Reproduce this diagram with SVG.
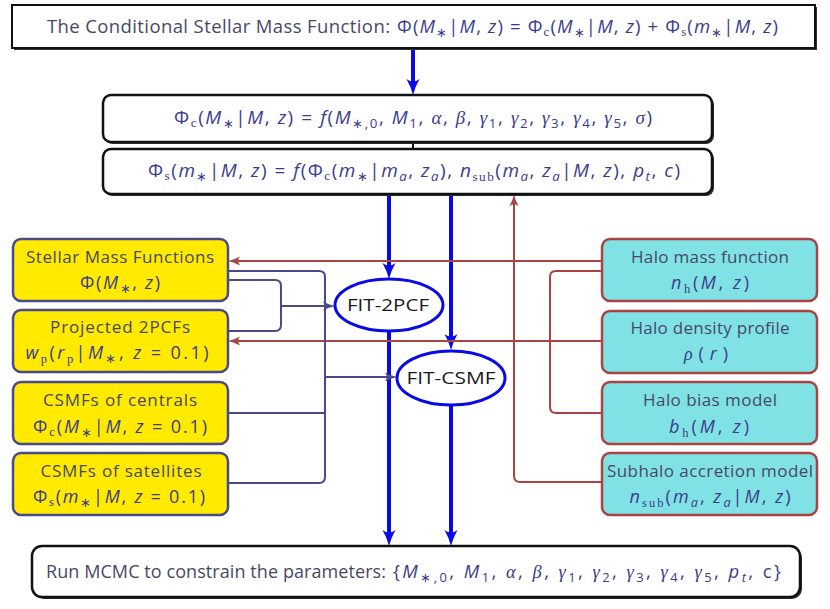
<svg xmlns="http://www.w3.org/2000/svg" width="830" height="609" viewBox="0 0 830 609">
<style>
text{font-family:"Open Sans","Liberation Sans",sans-serif;}
.tx{fill:#484866;}
.mt{fill:#3c3c8c;}
.i{font-style:italic;}
.g{font-family:"Liberation Serif",serif;font-style:italic;}
.r{font-family:"Liberation Serif",serif;font-style:normal;}
.s{font-size:70%;}
.bk{fill:#fff;stroke:#111;stroke-width:2.5;}
.sh{fill:#333;}
.ye{fill:#ffea00;stroke:#4a4a8a;stroke-width:2.5;}
.cy{fill:#80e2e4;stroke:#a84444;stroke-width:2.5;}
.el{fill:#fff;stroke:#0a0ae6;stroke-width:3;}
.eltx{fill:#1a1a1a;font-size:15.5px;}
.blue{stroke:#0a0ae6;stroke-width:4;fill:none;}
.red{stroke:#a84444;stroke-width:2;fill:none;}
.sl{stroke:#4a4a8a;stroke-width:2;fill:none;}
</style>
<defs>
<marker id="ab" viewBox="0 0 16 14" markerWidth="16" markerHeight="14" refX="8" refY="7" orient="auto" markerUnits="userSpaceOnUse">
<path d="M0,0.5 Q8,5 16,7 Q8,9 0,13.5 Q5,7 0,0.5 z" fill="#0a0ae6"/>
</marker>
<marker id="ar" viewBox="0 0 12 10" markerWidth="12" markerHeight="10" refX="5" refY="5" orient="auto" markerUnits="userSpaceOnUse">
<path d="M0,0.5 Q6,4 12,5 Q6,6 0,9.5 Q3.5,5 0,0.5 z" fill="#a84444"/>
</marker>
<marker id="as" viewBox="0 0 12 10" markerWidth="12" markerHeight="10" refX="5" refY="5" orient="auto" markerUnits="userSpaceOnUse">
<path d="M0,0.5 Q6,4 12,5 Q6,6 0,9.5 Q3.5,5 0,0.5 z" fill="#4a4a8a"/>
</marker>
</defs>
<rect width="830" height="609" fill="#fff"/>

<g id="connectors">
<line class="blue" x1="413" y1="49" x2="413" y2="87" marker-end="url(#ab)"/>
<line x1="413" y1="142" x2="413" y2="149" stroke="#111" stroke-width="2"/>
<line class="blue" x1="389" y1="194" x2="389" y2="271" marker-end="url(#ab)"/>
<line class="blue" x1="451" y1="194" x2="451" y2="342" marker-end="url(#ab)"/>
<line class="blue" x1="389" y1="331" x2="389" y2="538" marker-end="url(#ab)"/>
<line class="blue" x1="451" y1="406" x2="451" y2="538" marker-end="url(#ab)"/>
<line class="red" x1="602" y1="261" x2="235" y2="261" marker-end="url(#ar)"/>
<line class="red" x1="602" y1="341" x2="235" y2="341" marker-end="url(#ar)"/>
<path class="red" d="M602,271 H556 Q550,271 550,277 V407 Q550,413 556,413 H602"/>
<path class="red" d="M602,482 H520 Q514,482 514,476 V201" marker-end="url(#ar)"/>
<path class="sl" d="M228,271 H319 Q325,271 325,277 V477 Q325,483 319,483 H228"/>
<line class="sl" x1="228" y1="413" x2="325" y2="413"/>
<line class="sl" x1="325" y1="377" x2="390" y2="377" marker-end="url(#as)"/>
<path class="sl" d="M228,280 H275 Q281,280 281,286 V325 Q281,331 275,331 H228"/>
<line class="sl" x1="281" y1="306" x2="328" y2="306" marker-end="url(#as)"/>
</g>

<g id="csmf">
<rect class="sh" x="14" y="7" width="803" height="43"/>
<rect x="12" y="5" width="803" height="43" fill="#fff" stroke="#111" stroke-width="2"/>
<text x="47" y="33" font-size="18.5" textLength="343" lengthAdjust="spacing" class="tx">The Conditional Stellar Mass Function:</text>
<text x="397" y="33" font-size="18.5" textLength="381" lengthAdjust="spacing" class="mt">Φ(<tspan class="i">M</tspan><tspan class="s" dy="4">∗</tspan><tspan dy="-4">|</tspan><tspan class="i">M</tspan>, <tspan class="i">z</tspan>) = Φ<tspan class="r s" dy="3">c</tspan><tspan dy="-3">(</tspan><tspan class="i">M</tspan><tspan class="s" dy="4">∗</tspan><tspan dy="-4">|</tspan><tspan class="i">M</tspan>, <tspan class="i">z</tspan>) + Φ<tspan class="r s" dy="3">s</tspan><tspan dy="-3">(</tspan><tspan class="i">m</tspan><tspan class="s" dy="4">∗</tspan><tspan dy="-4">|</tspan><tspan class="i">M</tspan>, <tspan class="i">z</tspan>)</text>
</g>

<g id="phic">
<rect class="sh" x="105" y="97" width="609" height="47" rx="8"/>
<rect class="bk" x="103" y="95" width="609" height="47" rx="8"/>
<text x="413" y="124" text-anchor="middle" font-size="19" textLength="478" lengthAdjust="spacing" class="mt">Φ<tspan class="r s" dy="3">c</tspan><tspan dy="-3">(</tspan><tspan class="i">M</tspan><tspan class="s" dy="4">∗</tspan><tspan dy="-4">|</tspan><tspan class="i">M</tspan>, <tspan class="i">z</tspan>) = <tspan class="i">f</tspan>(<tspan class="i">M</tspan><tspan class="s" dy="4">∗,0</tspan><tspan dy="-4">, </tspan><tspan class="i">M</tspan><tspan class="s" dy="4">1</tspan><tspan dy="-4">, </tspan><tspan class="g">α</tspan>, <tspan class="g">β</tspan>, <tspan class="g">γ</tspan><tspan class="s" dy="4">1</tspan><tspan dy="-4">, </tspan><tspan class="g">γ</tspan><tspan class="s" dy="4">2</tspan><tspan dy="-4">, </tspan><tspan class="g">γ</tspan><tspan class="s" dy="4">3</tspan><tspan dy="-4">, </tspan><tspan class="g">γ</tspan><tspan class="s" dy="4">4</tspan><tspan dy="-4">, </tspan><tspan class="g">γ</tspan><tspan class="s" dy="4">5</tspan><tspan dy="-4">, </tspan><tspan class="g">σ</tspan>)</text>
</g>

<g id="phis">
<rect class="sh" x="105" y="151" width="609" height="45" rx="8"/>
<rect class="bk" x="103" y="149" width="609" height="45" rx="8"/>
<text x="414" y="177" text-anchor="middle" font-size="19" textLength="532" lengthAdjust="spacing" class="mt">Φ<tspan class="r s" dy="3">s</tspan><tspan dy="-3">(</tspan><tspan class="i">m</tspan><tspan class="s" dy="4">∗</tspan><tspan dy="-4">|</tspan><tspan class="i">M</tspan>, <tspan class="i">z</tspan>) = <tspan class="i">f</tspan>(Φ<tspan class="r s" dy="3">c</tspan><tspan dy="-3">(</tspan><tspan class="i">m</tspan><tspan class="s" dy="4">∗</tspan><tspan dy="-4">|</tspan><tspan class="i">m</tspan><tspan class="i s" dy="4">a</tspan><tspan dy="-4">, </tspan><tspan class="i">z</tspan><tspan class="i s" dy="4">a</tspan><tspan dy="-4">), </tspan><tspan class="i">n</tspan><tspan class="r s" dy="4">sub</tspan><tspan dy="-4">(</tspan><tspan class="i">m</tspan><tspan class="i s" dy="4">a</tspan><tspan dy="-4">, </tspan><tspan class="i">z</tspan><tspan class="i s" dy="4">a</tspan><tspan dy="-4">|</tspan><tspan class="i">M</tspan>, <tspan class="i">z</tspan>), <tspan class="i">p</tspan><tspan class="i s" dy="4">t</tspan><tspan dy="-4">, </tspan><tspan class="i">c</tspan>)</text>
</g>

<g id="smf">
<rect class="ye" x="13" y="239" width="215" height="62" rx="8"/>
<text x="120" y="263" text-anchor="middle" font-size="17" textLength="188" lengthAdjust="spacing" class="tx">Stellar Mass Functions</text>
<text x="120" y="289" text-anchor="middle" font-size="18" textLength="80" lengthAdjust="spacing" class="mt">Φ(<tspan class="i">M</tspan><tspan class="s" dy="4">∗</tspan><tspan dy="-4">, </tspan><tspan class="i">z</tspan>)</text>
</g>
<g id="p2pcf">
<rect class="ye" x="13" y="310" width="215" height="62" rx="8"/>
<text x="120" y="333" text-anchor="middle" font-size="17" textLength="140" lengthAdjust="spacing" class="tx">Projected 2PCFs</text>
<text x="117" y="359" text-anchor="middle" font-size="18" textLength="183" lengthAdjust="spacing" class="mt"><tspan class="i">w</tspan><tspan class="r s" dy="4">p</tspan><tspan dy="-4">(</tspan><tspan class="i">r</tspan><tspan class="r s" dy="4">p</tspan><tspan dy="-4">|</tspan><tspan class="i">M</tspan><tspan class="s" dy="4">∗</tspan><tspan dy="-4">, </tspan><tspan class="i">z</tspan> = 0.1)</text>
</g>
<g id="csmfc">
<rect class="ye" x="13" y="382" width="215" height="62" rx="8"/>
<text x="120" y="406" text-anchor="middle" font-size="17" textLength="154" lengthAdjust="spacing" class="tx">CSMFs of centrals</text>
<text x="120" y="433" text-anchor="middle" font-size="18" textLength="174" lengthAdjust="spacing" class="mt">Φ<tspan class="r s" dy="3">c</tspan><tspan dy="-3">(</tspan><tspan class="i">M</tspan><tspan class="s" dy="4">∗</tspan><tspan dy="-4">|</tspan><tspan class="i">M</tspan>, <tspan class="i">z</tspan> = 0.1)</text>
</g>
<g id="csmfs">
<rect class="ye" x="13" y="453" width="215" height="62" rx="8"/>
<text x="121" y="477" text-anchor="middle" font-size="17" textLength="161" lengthAdjust="spacing" class="tx">CSMFs of satellites</text>
<text x="119" y="503" text-anchor="middle" font-size="18" textLength="172" lengthAdjust="spacing" class="mt">Φ<tspan class="r s" dy="3">s</tspan><tspan dy="-3">(</tspan><tspan class="i">m</tspan><tspan class="s" dy="4">∗</tspan><tspan dy="-4">|</tspan><tspan class="i">M</tspan>, <tspan class="i">z</tspan> = 0.1)</text>
</g>

<g id="hmf">
<rect class="cy" x="602" y="239" width="215" height="62" rx="8"/>
<text x="710" y="263" text-anchor="middle" font-size="17" textLength="158" lengthAdjust="spacing" class="tx">Halo mass function</text>
<text x="710" y="289" text-anchor="middle" font-size="18" textLength="78" lengthAdjust="spacing" class="mt"><tspan class="i">n</tspan><tspan class="r s" dy="4">h</tspan><tspan dy="-4">(</tspan><tspan class="i">M</tspan>, <tspan class="i">z</tspan>)</text>
</g>
<g id="hdp">
<rect class="cy" x="602" y="311" width="215" height="62" rx="8"/>
<text x="710" y="334" text-anchor="middle" font-size="17" textLength="159" lengthAdjust="spacing" class="tx">Halo density profile</text>
<text x="706" y="360" text-anchor="middle" font-size="18" textLength="44" lengthAdjust="spacing" class="mt"><tspan class="g">ρ</tspan>(<tspan class="i">r</tspan>)</text>
</g>
<g id="hbm">
<rect class="cy" x="602" y="382" width="215" height="62" rx="8"/>
<text x="710" y="406" text-anchor="middle" font-size="17" textLength="134" lengthAdjust="spacing" class="tx">Halo bias model</text>
<text x="709" y="433" text-anchor="middle" font-size="18" textLength="80" lengthAdjust="spacing" class="mt"><tspan class="i">b</tspan><tspan class="r s" dy="4">h</tspan><tspan dy="-4">(</tspan><tspan class="i">M</tspan>, <tspan class="i">z</tspan>)</text>
</g>
<g id="sam">
<rect class="cy" x="602" y="453" width="215" height="62" rx="8"/>
<text x="710" y="477" text-anchor="middle" font-size="17" textLength="206" lengthAdjust="spacing" class="tx">Subhalo accretion model</text>
<text x="710" y="503" text-anchor="middle" font-size="18" textLength="161" lengthAdjust="spacing" class="mt"><tspan class="i">n</tspan><tspan class="r s" dy="4">sub</tspan><tspan dy="-4">(</tspan><tspan class="i">m</tspan><tspan class="i s" dy="4">a</tspan><tspan dy="-4">, </tspan><tspan class="i">z</tspan><tspan class="i s" dy="4">a</tspan><tspan dy="-4">|</tspan><tspan class="i">M</tspan>, <tspan class="i">z</tspan>)</text>
</g>

<g id="fit2pcf">
<ellipse class="el" cx="389" cy="305" rx="54" ry="26"/>
<text x="388" y="311" text-anchor="middle" textLength="82" lengthAdjust="spacingAndGlyphs" class="eltx">FIT-2PCF</text>
</g>
<g id="fitcsmf">
<ellipse class="el" cx="451" cy="378" rx="54" ry="27"/>
<text x="451" y="384" text-anchor="middle" textLength="89" lengthAdjust="spacingAndGlyphs" class="eltx">FIT-CSMF</text>
</g>

<g id="mcmc">
<rect class="sh" x="34" y="548" width="768" height="51" rx="10"/>
<rect class="bk" x="32" y="546" width="768" height="51" rx="10"/>
<text x="46" y="578" font-size="18" textLength="340" lengthAdjust="spacing" class="tx">Run MCMC to constrain the parameters:</text>
<text x="393" y="578" font-size="18.5" textLength="388" lengthAdjust="spacing" class="mt">{<tspan class="i">M</tspan><tspan class="s" dy="4">∗,0</tspan><tspan dy="-4">, </tspan><tspan class="i">M</tspan><tspan class="s" dy="4">1</tspan><tspan dy="-4">, </tspan><tspan class="g">α</tspan>, <tspan class="g">β</tspan>, <tspan class="g">γ</tspan><tspan class="s" dy="4">1</tspan><tspan dy="-4">, </tspan><tspan class="g">γ</tspan><tspan class="s" dy="4">2</tspan><tspan dy="-4">, </tspan><tspan class="g">γ</tspan><tspan class="s" dy="4">3</tspan><tspan dy="-4">, </tspan><tspan class="g">γ</tspan><tspan class="s" dy="4">4</tspan><tspan dy="-4">, </tspan><tspan class="g">γ</tspan><tspan class="s" dy="4">5</tspan><tspan dy="-4">, </tspan><tspan class="i">p</tspan><tspan class="i s" dy="4">t</tspan><tspan dy="-4">, </tspan>c}</text>
</g>
</svg>
